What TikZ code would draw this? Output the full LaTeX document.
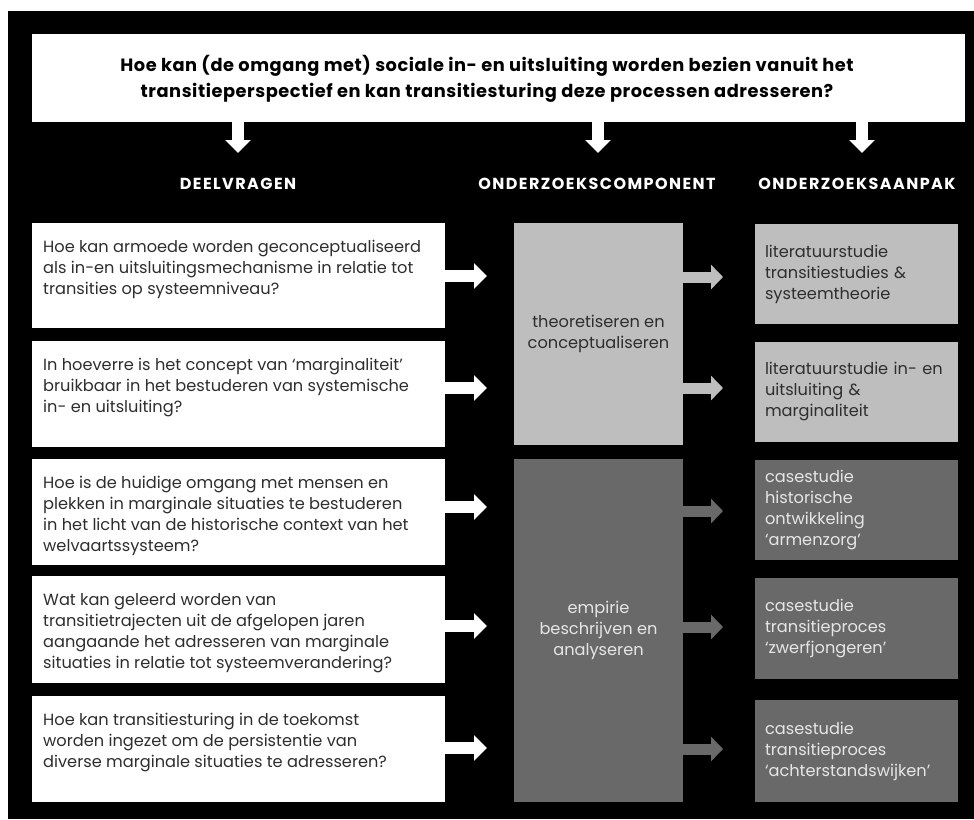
\documentclass[tikz,border=0pt]{standalone}
\usepackage{fontspec}
\setmainfont{Poppins}
\newfontfamily\headfont[LetterSpace=9]{Poppins}
\newfontfamily\titlefont[LetterSpace=3]{Poppins}
\usetikzlibrary{arrows.meta}
\definecolor{lgray}{HTML}{BEBEBE}
\definecolor{dgray}{HTML}{696969}
\definecolor{ltxt}{HTML}{2E2E2E}
\definecolor{dtxt}{HTML}{E6E6E6}
\begin{document}
\begin{tikzpicture}[x=1pt,y=-1pt,
  box/.style={draw=none,inner sep=0pt,outer sep=0pt,anchor=north west},
  wbox/.style={box,fill=white},
  lbox/.style={box,fill=lgray},
  dbox/.style={box,fill=dgray},
  qtext/.style={inner sep=0pt,anchor=north west,align=left,text=ltxt,font=\fontsize{16.2}{21}\selectfont},
  mtext/.style={inner sep=0pt,align=center,font=\fontsize{16.2}{21}\selectfont},
  rtext/.style={align=left,text width=183pt,inner xsep=10pt,font=\fontsize{16.2}{21}\selectfont},
  title/.style={inner sep=0pt,align=center,text=black,font=\titlefont\bfseries\fontsize{17.8}{26}\selectfont},
  head/.style={inner sep=0pt,text=white,font=\headfont\bfseries\fontsize{16}{16}\selectfont},
  warr/.style={draw=white,line width=12pt,-{Triangle[width=25pt,length=13pt,fill=white]}},
  larr/.style={draw=lgray,line width=11pt,-{Triangle[width=24pt,length=12pt,fill=lgray]}},
  darr/.style={draw=dgray,line width=11pt,-{Triangle[width=24pt,length=12pt,fill=dgray]}}
]
\useasboundingbox (0,0) rectangle (974,819);
\fill[white] (0,0) rectangle (974,819);
\fill[black] (8,11) rectangle (974,819);

% top question
\node[wbox,minimum width=933pt,minimum height=88pt] (top) at (32,34) {};
\node[title] (tt) at (487,79) {Hoe kan (de omgang met) sociale in- en uitsluiting worden bezien vanuit het\\transitieperspectief en kan transitiesturing deze processen adresseren?};

% down arrows
\coordinate (d1) at (238,153);
\coordinate (d2) at (598,153);
\coordinate (d3) at (862,153);
\draw[warr] (top.south -| d1) -- (d1);
\draw[warr] (top.south -| d2) -- (d2);
\draw[warr] (top.south -| d3) -- (d3);

% headers
\node[head] (h1) at (238,184) {DEELVRAGEN};
\node[head] (h2) at (597,184) {ONDERZOEKSCOMPONENT};
\node[head] (h3) at (857,184) {ONDERZOEKSAANPAK};

% left question boxes
\node[wbox,minimum width=413pt,minimum height=105pt] (q1) at (32,223) {};
\node[wbox,minimum width=413pt,minimum height=106pt] (q2) at (32,341) {};
\node[wbox,minimum width=413pt,minimum height=106pt] (q3) at (32,459) {};
\node[wbox,minimum width=413pt,minimum height=107pt] (q4) at (32,576) {};
\node[wbox,minimum width=413pt,minimum height=106pt] (q5) at (32,696) {};

\node[qtext] (q1t) at ([shift={(11,17)}]q1.north west) {Hoe kan armoede worden geconceptualiseerd\\als in-en uitsluitingsmechanisme in relatie tot\\transities op systeemniveau?};
\node[qtext] (q2t) at ([shift={(11,17)}]q2.north west) {In hoeverre is het concept van ‘marginaliteit’\\bruikbaar in het bestuderen van systemische\\in- en uitsluiting?};
\node[qtext] (q3t) at ([shift={(11,17)}]q3.north west) {Hoe is de huidige omgang met mensen en\\plekken in marginale situaties te bestuderen\\in het licht van de historische context van het\\welvaartssysteem?};
\node[qtext] (q4t) at ([shift={(11,17)}]q4.north west) {Wat kan geleerd worden van\\transitietrajecten uit de afgelopen jaren\\aangaande het adresseren van marginale\\situaties in relatie tot systeemverandering?};
\node[qtext] (q5t) at ([shift={(11,17)}]q5.north west) {Hoe kan transitiesturing in de toekomst\\worden ingezet om de persistentie van\\diverse marginale situaties te adresseren?};

% middle component boxes
\node[lbox,minimum width=169pt,minimum height=222pt] (m1) at (514,223) {};
\node[dbox,minimum width=169pt,minimum height=343pt] (m2) at (514,459) {};
\node[mtext,text=ltxt] (m1t) at (m1.center) {theoretiseren en\\conceptualiseren};
\node[mtext,text=dtxt] (m2t) at (m2.center) {empirie\\beschrijven en\\analyseren};

% right approach boxes
\node[lbox,rtext,text=ltxt,minimum height=100pt] (r1) at (755,224) {literatuurstudie\\transitiestudies \&\\systeemtheorie};
\node[lbox,rtext,text=ltxt,minimum height=100pt] (r2) at (755,342) {literatuurstudie in- en\\uitsluiting \&\\marginaliteit};
\node[dbox,rtext,text=dtxt,minimum height=100pt] (r3) at (755,460) {casestudie\\historische\\ontwikkeling\\‘armenzorg’};
\node[dbox,rtext,text=dtxt,minimum height=101pt] (r4) at (755,578) {casestudie\\transitieproces\\‘zwerfjongeren’};
\node[dbox,rtext,text=dtxt,minimum height=102pt] (r5) at (755,700) {casestudie\\transitieproces\\‘achterstandswijken’};

% left arrows (question -> component)
\coordinate (la1) at (487,276);
\coordinate (la2) at (487,388);
\coordinate (la3) at (487,507);
\coordinate (la4) at (487,626);
\coordinate (la5) at (487,748);
\draw[warr] (q1.east |- la1) -- (la1);
\draw[warr] (q2.east |- la2) -- (la2);
\draw[warr] (q3.east |- la3) -- (la3);
\draw[warr] (q4.east |- la4) -- (la4);
\draw[warr] (q5.east |- la5) -- (la5);

% right arrows (component -> approach)
\coordinate (ra1) at (723,277);
\coordinate (ra2) at (723,388);
\coordinate (ra3) at (723,511);
\coordinate (ra4) at (723,627);
\coordinate (ra5) at (723,749);
\draw[larr] (m1.east |- ra1) -- (ra1);
\draw[larr] (m1.east |- ra2) -- (ra2);
\draw[darr] (m2.east |- ra3) -- (ra3);
\draw[darr] (m2.east |- ra4) -- (ra4);
\draw[darr] (m2.east |- ra5) -- (ra5);
\end{tikzpicture}
\end{document}
